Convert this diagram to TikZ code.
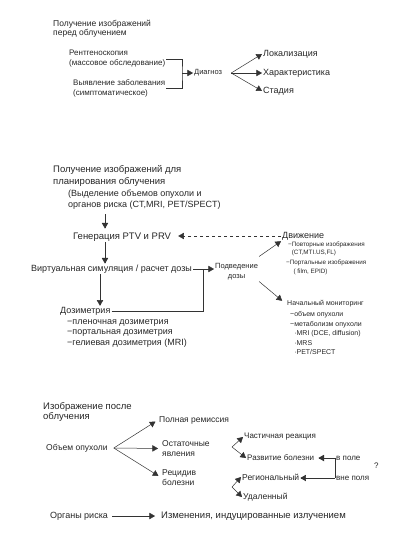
\documentclass[tikz,border=0pt]{standalone}
\usepackage{fontspec}
\setmainfont{Liberation Sans}
\usetikzlibrary{calc}
\usetikzlibrary{arrows}

\begin{document}
\begin{tikzpicture}[
     x=1pt, y=-1pt,
     lbl/.style={anchor=west, align=left, inner sep=1pt, text=black!85},
     fs/.style 2 args={font=\fontsize{#1}{#2}\selectfont},
     ln/.style={draw=black!80, line width=0.5pt},
     arr/.style={ln, -triangle 60}
   ]
   \path[use as bounding box] (0,0) rectangle (403,545);
   % Imaging before irradiation.
   \node[lbl, fs={8.5}{9.5}] (head1) at (52,28.5) {Получение изображений\\перед облучением};
   \node[lbl, fs={8}{10}] (rent) at (68,59) {Рентгеноскопия\\(массовое обследование)};
   \node[lbl, fs={8}{10}] (vyyav) at (72,88) {Выявление заболевания\\(симптоматическое)};
   \node[lbl, fs={7.5}{9}] (diag) at (193,73) {Диагноз};
   \node[lbl, fs={9}{11}] (lok) at (262,54) {Локализация};
   \node[lbl, fs={9}{11}] (har) at (262,73) {Характеристика};
   \node[lbl, fs={9}{11}] (stad) at (262,91) {Стадия};
   \coordinate (brk) at (182,73);
   \coordinate (dfork) at ([xshift=8]diag.east);
   \draw[ln] (rent.east) -| (brk) |- (vyyav.east);
   \draw[arr] (brk) -- (diag.west);
   \draw[arr] (dfork) -- (lok.west);
   \draw[arr] (dfork) -- (har.west);
   \draw[arr] (dfork) -- (stad.west);
   % Imaging for planning.
   \node[lbl, fs={9.5}{12}] (head2) at (52,176) {Получение изображений для\\планирования облучения};
   \node[lbl, fs={9}{11}] (vydel) at (67,199.5) {(Выделение объемов опухоли и\\органов риска (CT,MRI, PET/SPECT)};
   \node[lbl, fs={9.5}{12}] (gen) at (72,237) {Генерация PTV и PRV};
   \node[lbl, fs={9}{11}] (dvizh) at (281,236) {Движение};
   \node[lbl, fs={9}{11}] (virt) at (30,269) {Виртуальная симуляция / расчет дозы};
   \node[lbl, fs={7.5}{10}, align=center] (podv) at (214,272) {Подведение\\дозы};
   \node[lbl, fs={6.3}{8}] (povt) at (287,249) {−Повторные изображения\\\hphantom{−}(CT,MTI.US,FL)};
   \node[lbl, fs={6.3}{9}] (port) at (285,267.5) {−Портальные изображения\\\hphantom{−−}( film, EPID)};
   \node[lbl, fs={9}{11}] (dozim) at (59,311) {Дозиметрия};
   \node[lbl, fs={9}{10.5}] (dozlist) at (66,333.5) {−пленочная дозиметрия\\−портальная дозиметрия\\−гелиевая дозиметрия (MRI)};
   \node[lbl, fs={7}{9.5}] (nach) at (286,304) {Начальный мониторинг};
   \node[lbl, fs={7}{9.5}] (monlist) at (289,333) {−объем опухоли\\−метаболизм опухоли\\\hphantom{−}·MRI (DCE, diffusion)\\\hphantom{−}·MRS\\\hphantom{−}·PET/SPECT};
   \coordinate (colA) at (105,0);
   \coordinate (colB) at (100,0);
   \coordinate (jn) at (203,269);
   \draw[arr, shorten <=4pt, shorten >=3pt] (vydel.south -| colA) -- (gen.north -| colA);
   \draw[arr, dashed, shorten >=6pt] (dvizh.west) -- (dvizh.west -| gen.east);
   \draw[arr] (gen.south -| colA) -- (virt.north -| colA);
   \draw[arr] (virt.east) -- (virt.east -| podv.west);
   \draw[ln] (dozim.east) -| (jn);
   \draw[arr] (virt.south -| colB) -- (dozim.north -| colB);
   \draw[arr] ([yshift=6]podv.north east) -- (dvizh.south west);
   \draw[arr, shorten >=5pt] (podv.south east) -- (nach.west);
   % Imaging after irradiation.
   \node[lbl, fs={9.5}{10.5}] (head3) at (42,412) {Изображение после\\облучения};
   \node[lbl, fs={8.5}{10}] (obj) at (45,448) {Объем опухоли};
   \node[lbl, fs={8.5}{10}] (poln) at (158,420) {Полная ремиссия};
   \node[lbl, fs={8.5}{9.5}] (ostat) at (161,448.5) {Остаточные\\явления};
   \node[lbl, fs={8.5}{9.5}] (recid) at (161,477.5) {Рецидив\\болезни};
   \node[lbl, fs={8}{10}] (chast) at (243,437) {Частичная реакция};
   \node[lbl, fs={8}{10}] (razv) at (246,458) {Развитие болезни};
   \node[lbl, fs={8.5}{10}] (region) at (241,477) {Региональный};
   \node[lbl, fs={8.5}{10}] (udal) at (242,497) {Удаленный};
   \node[lbl, fs={8}{10}] (vpole) at (335,458) {в поле};
   \node[lbl, fs={8}{10}] (vnepol) at (335,478) {вне поля};
   \node[lbl, fs={8}{10}] (quest) at (373,466) {?};
   \node[lbl, fs={9}{11}] (organ) at (49,516) {Органы риска};
   \node[lbl, fs={9.5}{11}] (izm) at (160,516) {Изменения, индуцированные излучением};
   \coordinate (ofork) at ([xshift=5]obj.east);
   \coordinate (f2) at (232,447);
   \coordinate (f3) at (232,487);
   \draw[arr, shorten >=3pt] (ofork) -- (poln.west);
   \draw[arr, shorten >=3pt] (ofork) -- (ostat.west);
   \draw[arr, shorten >=3pt] (ofork) -- (recid.west);
   \draw[arr] (f2) -- (chast.west);
   \draw[arr] (f2) -- (razv.west);
   \draw[arr] (f3) -- (region.west);
   \draw[arr] (f3) -- (udal.west);
   \draw[ln] (vpole.west) -- (vnepol.west);
   \draw[arr, shorten >=3pt] (vpole.west) -- (razv.east);
   \draw[arr] (vnepol.west) -- (vnepol.west -| region.east);
   \draw[arr, shorten <=3pt, shorten >=5pt] (organ.east) -- (izm.west);
 \end{tikzpicture}
\end{document}
